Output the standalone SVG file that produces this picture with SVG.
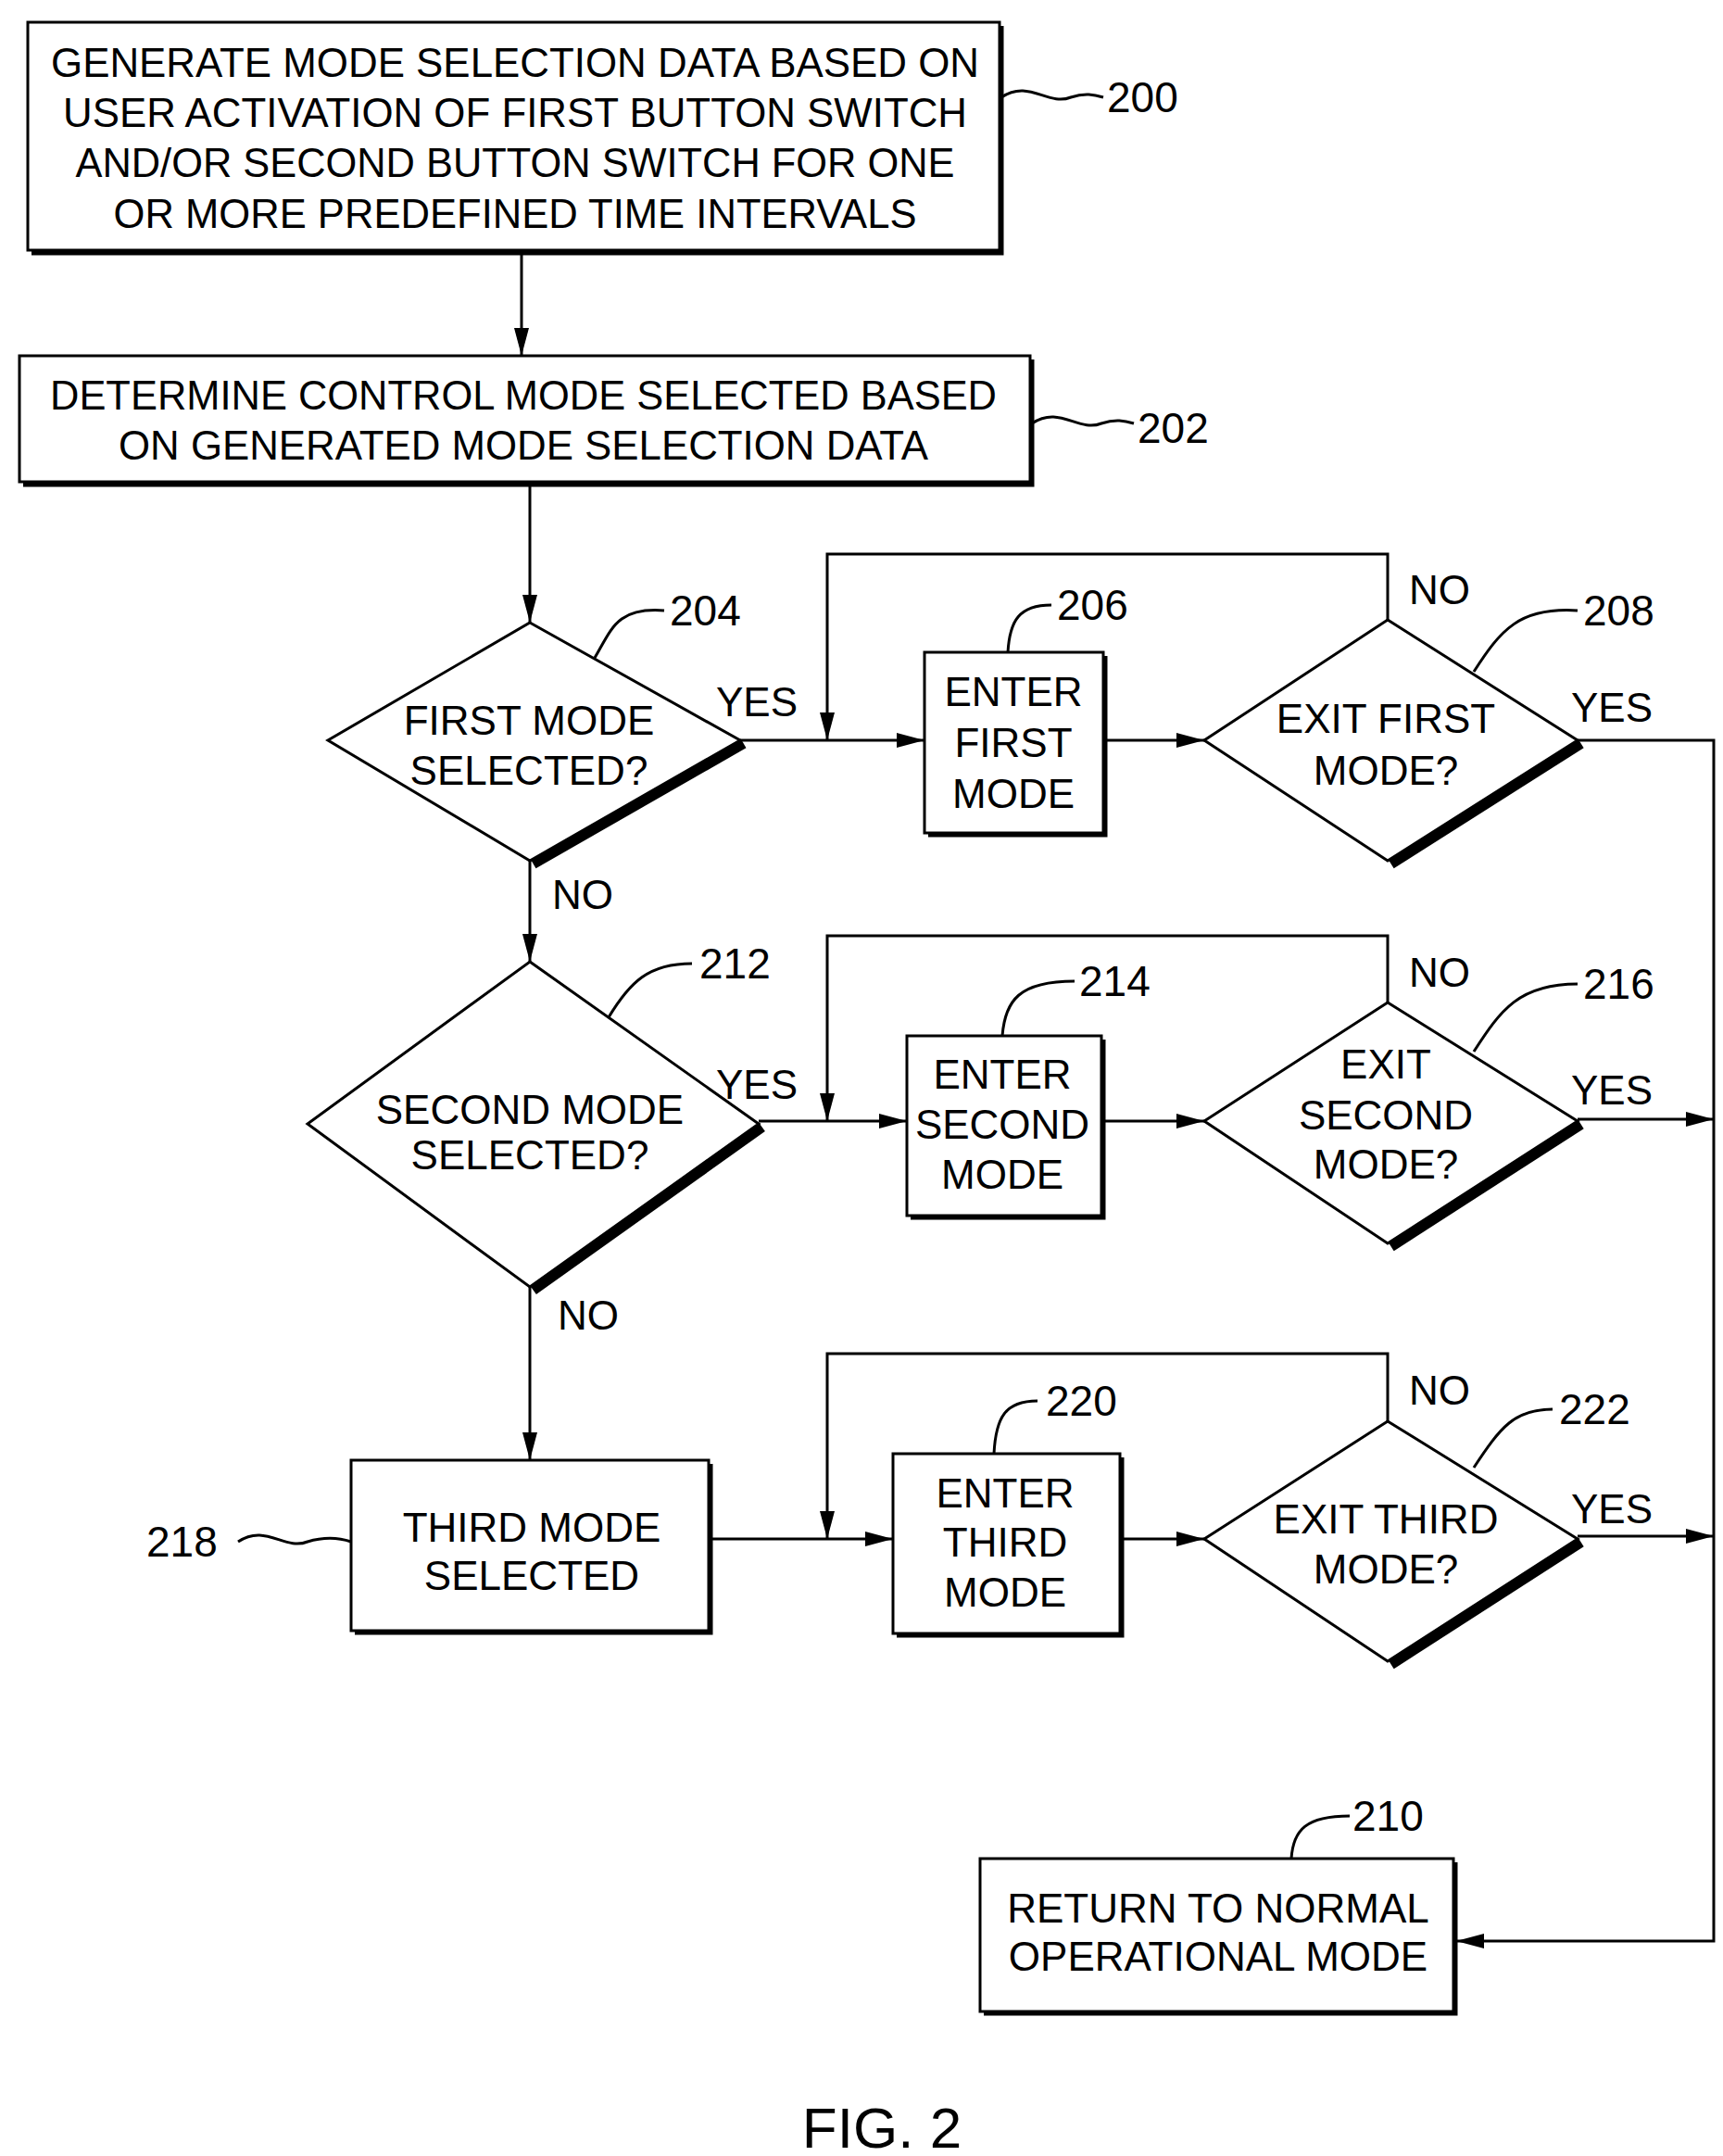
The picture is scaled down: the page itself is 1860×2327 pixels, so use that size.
<svg xmlns="http://www.w3.org/2000/svg" width="1860" height="2327" viewBox="0 0 1860 2327">
<style>
text{font-family:"Liberation Sans",Arial,sans-serif;font-size:44px;fill:#000;text-anchor:middle;dominant-baseline:central}
.lbl{font-size:46px;text-anchor:start}
.b{fill:#fff;stroke:#000;stroke-width:3}
.sh{fill:none;stroke:#000;stroke-width:5}
.dsh{fill:none;stroke:#000;stroke-width:10}
.c{fill:none;stroke:#000;stroke-width:3}
</style>
<defs><marker id="a" markerWidth="12" markerHeight="10" refX="11" refY="5" orient="auto" markerUnits="userSpaceOnUse"><path d="M0,0L12,5L0,10z" transform="scale(1)"/></marker>
<marker id="ah" viewBox="0 0 30 16" markerWidth="30" markerHeight="16" refX="30" refY="8" orient="auto" markerUnits="userSpaceOnUse"><path d="M0,0L30,8L0,16z"/></marker></defs>
<g id="connectors">
<path class="c" d="M563,270V384" marker-end="url(#ah)"/>
<path class="c" d="M572,520V672" marker-end="url(#ah)"/>
<path class="c" d="M799,799H998" marker-end="url(#ah)"/>
<path class="c" d="M1498,669V598H893V799" marker-end="url(#ah)"/>
<path class="c" d="M1191,799H1300" marker-end="url(#ah)"/>
<path class="c" d="M1703,799H1850V2095H1572" marker-end="url(#ah)"/>
<path class="c" d="M572,929V1038" marker-end="url(#ah)"/>
<path class="c" d="M819,1210H979" marker-end="url(#ah)"/>
<path class="c" d="M1498,1082V1010H893V1210" marker-end="url(#ah)"/>
<path class="c" d="M1189,1210H1300" marker-end="url(#ah)"/>
<path class="c" d="M1703,1208H1850" marker-end="url(#ah)"/>
<path class="c" d="M572,1389V1576" marker-end="url(#ah)"/>
<path class="c" d="M765,1661H964" marker-end="url(#ah)"/>
<path class="c" d="M1498,1534V1461H893V1661" marker-end="url(#ah)"/>
<path class="c" d="M1209,1661H1300" marker-end="url(#ah)"/>
<path class="c" d="M1703,1658H1850" marker-end="url(#ah)"/>
<text x="817" y="757">YES</text><text x="1554" y="636">NO</text><text x="1740" y="763">YES</text>
<text x="629" y="965">NO</text><text x="817" y="1170">YES</text><text x="1554" y="1049">NO</text><text x="1740" y="1176">YES</text>
<text x="635" y="1419">NO</text><text x="1554" y="1500">NO</text><text x="1740" y="1628">YES</text>
</g>
<g id="n200"><path class="sh" d="M1081,28V273H34"/><rect class="b" x="30" y="24" width="1049" height="246"/>
<text x="556" y="67" textLength="1002" lengthAdjust="spacingAndGlyphs">GENERATE MODE SELECTION DATA BASED ON</text>
<text x="556" y="121" textLength="976" lengthAdjust="spacingAndGlyphs">USER ACTIVATION OF FIRST BUTTON SWITCH</text>
<text x="556" y="175" textLength="949" lengthAdjust="spacingAndGlyphs">AND/OR SECOND BUTTON SWITCH FOR ONE</text>
<text x="556" y="230" textLength="867" lengthAdjust="spacingAndGlyphs">OR MORE PREDEFINED TIME INTERVALS</text>
<path class="c" d="M1081,105c30,-20 50,10 75,0c15,-5 25,-3 35,0"/><text class="lbl" x="1195" y="105">200</text></g>
<g id="n202"><path class="sh" d="M1114,388V523H25"/><rect class="b" x="21" y="384" width="1091" height="136"/>
<text x="565" y="426" textLength="1022" lengthAdjust="spacingAndGlyphs">DETERMINE CONTROL MODE SELECTED BASED</text>
<text x="565" y="480" textLength="874" lengthAdjust="spacingAndGlyphs">ON GENERATED MODE SELECTION DATA</text>
<path class="c" d="M1114,457c30,-20 50,10 75,0c15,-5 25,-3 35,0"/><text class="lbl" x="1228" y="462">202</text></g>
<g id="n204"><path class="dsh" d="M803,803L576,933"/><path class="b" d="M572,672L799,799L572,929L354,799z"/>
<text x="571" y="777">FIRST MODE</text><text x="571" y="831">SELECTED?</text>
<path class="c" d="M642,710C660,680 665,655 717,659"/><text class="lbl" x="723" y="659">204</text></g>
<g id="n206"><path class="sh" d="M1193,708V901H1002"/><rect class="b" x="998" y="704" width="193" height="195"/>
<text x="1094" y="746">ENTER</text><text x="1094" y="801">FIRST</text><text x="1094" y="856">MODE</text>
<path class="c" d="M1088,704C1090,670 1100,653 1135,653"/><text class="lbl" x="1141" y="653">206</text></g>
<g id="n208"><path class="dsh" d="M1707,803L1502,933"/><path class="b" d="M1498,669L1703,799L1498,929L1300,799z"/>
<text x="1496" y="775">EXIT FIRST</text><text x="1496" y="831">MODE?</text>
<path class="c" d="M1591,725C1620,680 1640,655 1703,659"/><text class="lbl" x="1709" y="659">208</text></g>
<g id="n212"><path class="dsh" d="M823,1217L576,1393"/><path class="b" d="M572,1038L819,1213L572,1389L332,1213z"/>
<text x="572" y="1197">SECOND MODE</text><text x="572" y="1246">SELECTED?</text>
<path class="c" d="M657,1098C680,1060 700,1040 747,1040"/><text class="lbl" x="755" y="1040">212</text></g>
<g id="n214"><path class="sh" d="M1191,1122V1314H983"/><rect class="b" x="979" y="1118" width="210" height="194"/>
<text x="1082" y="1159">ENTER</text><text x="1082" y="1213">SECOND</text><text x="1082" y="1267">MODE</text>
<path class="c" d="M1082,1118C1085,1080 1100,1059 1160,1059"/><text class="lbl" x="1165" y="1059">214</text></g>
<g id="n216"><path class="dsh" d="M1707,1214L1502,1346"/><path class="b" d="M1498,1082L1703,1210L1498,1342L1300,1210z"/>
<text x="1496" y="1148">EXIT</text><text x="1496" y="1203">SECOND</text><text x="1496" y="1256">MODE?</text>
<path class="c" d="M1591,1135C1620,1090 1640,1062 1703,1062"/><text class="lbl" x="1709" y="1062">216</text></g>
<g id="n218"><path class="sh" d="M767,1580V1762H383"/><rect class="b" x="379" y="1576" width="386" height="184"/>
<text x="574" y="1648">THIRD MODE</text><text x="574" y="1700">SELECTED</text>
<path class="c" d="M257,1664c30,-20 50,10 75,0c20,-6 35,-4 47,0"/><text class="lbl" x="158" y="1664">218</text></g>
<g id="n220"><path class="sh" d="M1211,1573V1765H968"/><rect class="b" x="964" y="1569" width="245" height="194"/>
<text x="1085" y="1611">ENTER</text><text x="1085" y="1664">THIRD</text><text x="1085" y="1718">MODE</text>
<path class="c" d="M1073,1569C1075,1530 1085,1512 1120,1512"/><text class="lbl" x="1129" y="1512">220</text></g>
<g id="n222"><path class="dsh" d="M1707,1665L1502,1797"/><path class="b" d="M1498,1534L1703,1661L1498,1793L1300,1661z"/>
<text x="1496" y="1639">EXIT THIRD</text><text x="1496" y="1693">MODE?</text>
<path class="c" d="M1591,1584C1620,1540 1635,1521 1676,1521"/><text class="lbl" x="1683" y="1521">222</text></g>
<g id="n210"><path class="sh" d="M1571,2010V2173H1062"/><rect class="b" x="1058" y="2006" width="511" height="165"/>
<text x="1315" y="2059">RETURN TO NORMAL</text><text x="1315" y="2111">OPERATIONAL MODE</text>
<path class="c" d="M1394,2006C1396,1975 1410,1960 1457,1960"/><text class="lbl" x="1460" y="1960">210</text></g>
<text x="952" y="2296" style="font-size:62px">FIG. 2</text>
</svg>
